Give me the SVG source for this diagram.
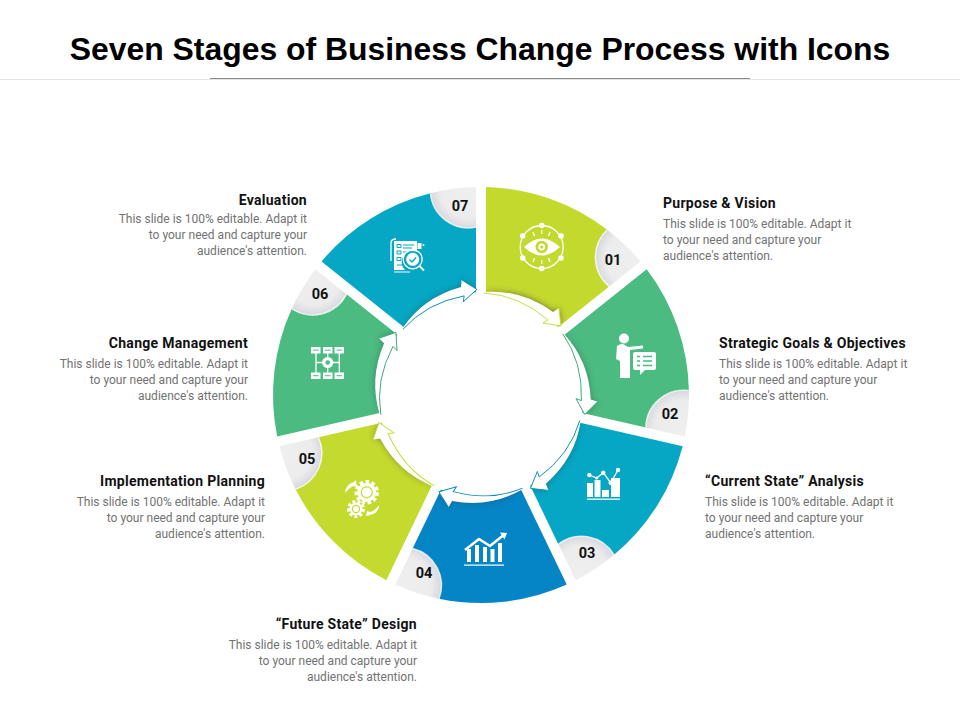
<svg xmlns="http://www.w3.org/2000/svg" xmlns:xlink="http://www.w3.org/1999/xlink" width="960" height="720" viewBox="0 0 960 720">
<style>
text{font-family:Roboto,"Liberation Sans",sans-serif}
.title{font-family:"Liberation Sans",Arial,sans-serif;font-weight:700;font-size:31.9px;fill:#000}
.h{font-weight:700;font-size:14px;letter-spacing:.29px;fill:#111}
.b{font-size:12px;fill:#727272}
.n{font-weight:700;font-size:14.5px;fill:#111;text-anchor:middle}
.e{text-anchor:end}
.w{fill:#fff}
.l{fill:none;stroke:#fff;stroke-width:1.3}
.rim{fill:none;stroke:#fff;stroke-opacity:.75;stroke-width:1.5}
.ar{fill:#fff;stroke:none}
.ao{fill:none;stroke-width:.9}
</style>
<defs>
<radialGradient id="ng" gradientUnits="userSpaceOnUse" cx="152.4" cy="-136.9" r="38">
<stop offset="0" stop-color="#efefef"/><stop offset=".74" stop-color="#ececec"/><stop offset=".97" stop-color="#dbdae1"/><stop offset="1" stop-color="#d2d0da"/>
</radialGradient>
<filter id="bl" x="-30%" y="-30%" width="160%" height="160%"><feGaussianBlur stdDeviation="3"/></filter>
<path id="seg" d="M5,-207.94A208,208 0 0 1 126.2,-165.3A38,38 0 0 0 128.2,-108.6L77.31,-68.05A103,103 0 0 0 5,-102.88Z"/>
<path id="notch" d="M126.2,-165.3A208,208 0 0 1 159.45,-133.56L128.2,-108.6A38,38 0 0 1 126.2,-165.3Z" fill="url(#ng)"/>
<path id="rim" d="M126.2,-165.3A38,38 0 0 0 128.2,-108.6"/>
<path id="arr" d="M3,-103Q40.5,-106 72,-83L78,-87L80,-69L62,-72L67,-75Q38,-100 3,-102Z"/>
<path id="arl" d="M3,-102Q38,-100 67,-75L62,-72L80,-69L78,-87"/>
<clipPath id="cs"><use xlink:href="#seg"/></clipPath>
</defs>
<rect width="960" height="720" fill="#fff"/>
<g id="header">
<text class="title" x="480" y="60" text-anchor="middle">Seven Stages of Business Change Process with Icons</text>
<path d="M0,79.5H960" stroke="#e4e4e4" fill="none"/>
<path d="M210,78.5H750" stroke="#8a8a8a" fill="none"/>
</g>

<g id="node-01">
<g transform="translate(481 395)"><use xlink:href="#notch"/><use xlink:href="#seg" fill="#c4d92e"/><use xlink:href="#rim" class="rim"/><g clip-path="url(#cs)"><use xlink:href="#arr" fill="#333" opacity=".6" filter="url(#bl)"/></g></g>
<text class="n" x="613" y="265">01</text>
<g id="icon-01">
<circle cx="541.7" cy="247" r="21.5" class="l"/>
<g class="w"><circle cx="541.7" cy="225.5" r="2.8"/><circle cx="561" cy="236" r="2.8"/><circle cx="561" cy="258" r="2.8"/><circle cx="541.7" cy="268.5" r="2.8"/><circle cx="522.7" cy="258" r="2.8"/><circle cx="522.7" cy="236" r="2.8"/>
<path d="M524,247Q541.7,230 560,247Q541.7,264 524,247Z"/></g>
<circle cx="541.7" cy="247" r="6.2" fill="#c4d92e"/><circle cx="541.7" cy="247" r="3.4" fill="#fff"/><circle cx="541.7" cy="247" r="1.6" fill="#c4d92e"/>
<path class="l" d="M533,232l1.5,4M541.7,230v4M550,232l-1.5,4M533,262l1.5,-4M541.7,264v-4M550,262l-1.5,-4"/>
</g>
<text class="h" x="663" y="208">Purpose &amp; Vision</text>
<text class="b" x="663" y="228">This slide is 100% editable. Adapt it</text>
<text class="b" x="663" y="244">to your need and capture your</text>
<text class="b" x="663" y="260">audience's attention.</text>
</g>

<g id="node-02">
<g transform="translate(481 395) rotate(51.4286)"><use xlink:href="#notch"/><use xlink:href="#seg" fill="#4bbb82"/><use xlink:href="#rim" class="rim"/><g clip-path="url(#cs)"><use xlink:href="#arr" fill="#333" opacity=".4" filter="url(#bl)"/></g></g>
<text class="n" x="670" y="419">02</text>
<g id="icon-02">
<circle cx="624" cy="338.5" r="5" class="w"/>
<path class="w" d="M617,346Q619,344 623,344L628,347L643,345.5V348.5L630,350V378H620V361L616,359Z"/>
<path class="w" d="M635,352H654Q656,352 656,354V368Q656,370 654,370H645L640,375V370H635Q633,370 633,368V354Q633,352 635,352Z"/>
<path d="M643,356.5H652M643,361H652M643,365.5H652M637,356.5H640M637,361H640M637,365.5H640" fill="none" stroke="#4bbb82" stroke-width="1.3"/>
</g>
<text class="h" x="719" y="348">Strategic Goals &amp; Objectives</text>
<text class="b" x="719" y="368">This slide is 100% editable. Adapt it</text>
<text class="b" x="719" y="384">to your need and capture your</text>
<text class="b" x="719" y="400">audience's attention.</text>
</g>

<g id="node-03">
<g transform="translate(481 395) rotate(102.8571)"><use xlink:href="#notch"/><use xlink:href="#seg" fill="#05a7c4"/><use xlink:href="#rim" class="rim"/><g clip-path="url(#cs)"><use xlink:href="#arr" fill="#333" opacity=".4" filter="url(#bl)"/></g></g>
<text class="n" x="587" y="558">03</text>
<g id="icon-03">
<g class="w"><rect x="587" y="483" width="6" height="14"/><rect x="594.500" y="480" width="6" height="17"/><rect x="602" y="490" width="7" height="7"/><rect x="611" y="478" width="9" height="19"/>
<rect x="587" y="498.500" width="33" height="1.300"/>
<circle cx="589.300" cy="475" r="2.200"/><circle cx="596.700" cy="478" r="1.600"/><circle cx="603.300" cy="472.700" r="2.200"/><circle cx="610.700" cy="482.700" r="2.200"/><circle cx="618" cy="470" r="2.200"/></g>
<path class="l" d="M589.300,475L596.700,478L603.300,472.700L610.700,482.700L618,470"/>
</g>
<text class="h" x="705" y="486">“Current State” Analysis</text>
<text class="b" x="705" y="506">This slide is 100% editable. Adapt it</text>
<text class="b" x="705" y="522">to your need and capture your</text>
<text class="b" x="705" y="538">audience's attention.</text>
</g>

<g id="node-04">
<g transform="translate(481 395) rotate(154.2857)"><use xlink:href="#notch"/><use xlink:href="#seg" fill="#0585c5"/><use xlink:href="#rim" class="rim"/><g clip-path="url(#cs)"><use xlink:href="#arr" fill="#333" opacity=".4" filter="url(#bl)"/></g></g>
<text class="n" x="424" y="578">04</text>
<g id="icon-04">
<g class="w"><rect x="467" y="549" width="4" height="13"/><rect x="475" y="545" width="4" height="17"/><rect x="483" y="547" width="4" height="15"/><rect x="490.500" y="549" width="4" height="13"/><rect x="498" y="543" width="4" height="19"/>
<rect x="464" y="564.500" width="40" height="1.200"/><path d="M500,532.500L507,533L504.500,539.500Z"/></g>
<path d="M465,550L479,539L490,546L503,535.500" fill="none" stroke="#fff" stroke-width="2.600"/>
</g>
<text class="h e" x="417" y="629">“Future State” Design</text>
<text class="b e" x="417" y="649">This slide is 100% editable. Adapt it</text>
<text class="b e" x="417" y="665">to your need and capture your</text>
<text class="b e" x="417" y="681">audience's attention.</text>
</g>

<g id="node-05">
<g transform="translate(481 395) rotate(205.7143)"><use xlink:href="#notch"/><use xlink:href="#seg" fill="#c5da2e"/><use xlink:href="#rim" class="rim"/><g clip-path="url(#cs)"><use xlink:href="#arr" fill="#333" opacity=".4" filter="url(#bl)"/></g></g>
<text class="n" x="307" y="464">05</text>
<g id="icon-05">
<circle cx="366.700" cy="492.300" r="9.500" class="w"/><circle cx="356" cy="509" r="6.500" class="w"/>
<g fill="none" stroke="#fff">
<circle cx="366.700" cy="492.300" r="10.500" stroke-width="3.500" stroke-dasharray="3.500 2.500"/>
<circle cx="356" cy="509" r="7.500" stroke-width="3" stroke-dasharray="3 2.240"/>
</g>
<g fill="none" stroke="#c5da2e" stroke-width="1.200"><circle cx="366.700" cy="492.300" r="5.500"/><circle cx="356" cy="509" r="3.600"/></g>
<path class="w" d="M345,493Q346,484 354,482L356,480L357,487L353,486Q349,488 345,493Z"/>
<path class="w" d="M379,505Q379,513 370,515L366,516L367,511L370,512Q375,511 379,505Z"/>
</g>
<text class="h e" x="265" y="486">Implementation Planning</text>
<text class="b e" x="265" y="506">This slide is 100% editable. Adapt it</text>
<text class="b e" x="265" y="522">to your need and capture your</text>
<text class="b e" x="265" y="538">audience's attention.</text>
</g>

<g id="node-06">
<g transform="translate(481 395) rotate(257.1429)"><use xlink:href="#notch"/><use xlink:href="#seg" fill="#4bbb82"/><use xlink:href="#rim" class="rim"/><g clip-path="url(#cs)"><use xlink:href="#arr" fill="#333" opacity=".4" filter="url(#bl)"/></g></g>
<text class="n" x="320" y="299">06</text>
<g id="icon-06">
<path class="l" d="M316,353V373M327.700,353V373M339.300,353V373M316,362.500H339.300"/>
<g class="w"><rect x="311" y="347" width="9.500" height="6.500"/><rect x="323" y="347" width="9.500" height="6.500"/><rect x="334.500" y="347" width="9.500" height="6.500"/><rect x="311" y="372.500" width="9.500" height="6.500"/><rect x="323" y="372.500" width="9.500" height="6.500"/><rect x="334.500" y="372.500" width="9.500" height="6.500"/><circle cx="327.700" cy="362.500" r="5.500"/></g>
<circle cx="327.700" cy="362.500" r="2.300" fill="#4bbb82"/>
<path d="M313,350.200h5.500M325,350.200h5.500M336.500,350.200h5.500M313,375.700h5.500M325,375.700h5.500M336.500,375.700h5.500" stroke="#4bbb82" stroke-width="1" fill="none"/>
</g>
<text class="h e" x="248" y="348">Change Management</text>
<text class="b e" x="248" y="368">This slide is 100% editable. Adapt it</text>
<text class="b e" x="248" y="384">to your need and capture your</text>
<text class="b e" x="248" y="400">audience's attention.</text>
</g>

<g id="node-07">
<g transform="translate(481 395) rotate(308.5714)"><use xlink:href="#notch"/><use xlink:href="#seg" fill="#05a7c4"/><use xlink:href="#rim" class="rim"/><g clip-path="url(#cs)"><use xlink:href="#arr" fill="#333" opacity=".4" filter="url(#bl)"/></g></g>
<text class="n" x="460" y="211">07</text>
<g id="icon-07">
<path class="l" d="M396,239Q391,239 391,243V261"/>
<path class="w" d="M394,241H417V252A11,11 0 0 0 405,270H394Z"/>
<path d="M397,244.500h4v3h-4zM397,251h4v3h-4zM397,257.500h4v3h-4zM403,245h11M403,248h9M403,252h8M403,259h4M397,265h8" fill="none" stroke="#05a7c4" stroke-width="1"/>
<rect x="417.500" y="243" width="4" height="6" class="w"/><circle cx="423.500" cy="245" r="1" class="w"/>
<circle cx="412.700" cy="259.300" r="9.500" class="l"/><circle cx="412.700" cy="259.300" r="6.500" class="w"/>
<path d="M409.500,259.500l2.500,2.500l4,-4.500" fill="none" stroke="#05a7c4" stroke-width="1.400"/>
<path d="M419.500,266L424,270.500" stroke="#fff" stroke-width="1.800" fill="none"/>
<path d="M394,272H410" stroke="#fff" stroke-width="1" fill="none"/>
</g>
<text class="h e" x="307" y="205">Evaluation</text>
<text class="b e" x="307" y="223">This slide is 100% editable. Adapt it</text>
<text class="b e" x="307" y="239">to your need and capture your</text>
<text class="b e" x="307" y="255">audience's attention.</text>
</g>

<g id="connectors">
<g transform="translate(481 395)"><use xlink:href="#arr" class="ar"/><use xlink:href="#arl" class="ao" stroke="#c4d92e"/></g>
<g transform="translate(481 395) rotate(51.4286)"><use xlink:href="#arr" class="ar"/><use xlink:href="#arl" class="ao" stroke="#3aa876"/></g>
<g transform="translate(481 395) rotate(102.8571)"><use xlink:href="#arr" class="ar"/><use xlink:href="#arl" class="ao" stroke="#0a8fb0"/></g>
<g transform="translate(481 395) rotate(154.2857)"><use xlink:href="#arr" class="ar"/><use xlink:href="#arl" class="ao" stroke="#0585c5"/></g>
<g transform="translate(481 395) rotate(205.7143)"><use xlink:href="#arr" class="ar"/><use xlink:href="#arl" class="ao" stroke="#c5da2e"/></g>
<g transform="translate(481 395) rotate(257.1429)"><use xlink:href="#arr" class="ar"/><use xlink:href="#arl" class="ao" stroke="#3aa876"/></g>
<g transform="translate(481 395) rotate(308.5714)"><use xlink:href="#arr" class="ar"/><use xlink:href="#arl" class="ao" stroke="#0a8fb0"/></g>
</g>
</svg>
